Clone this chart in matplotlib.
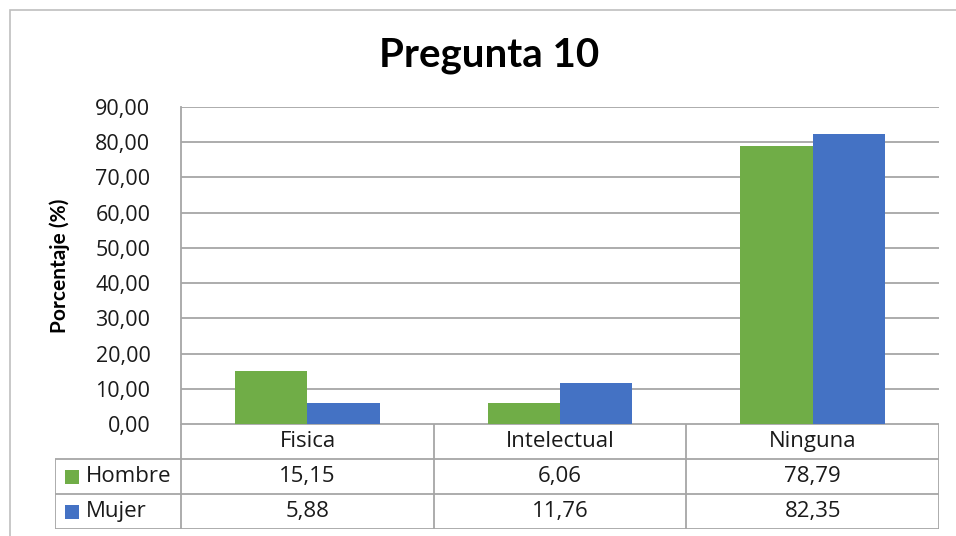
import matplotlib.pyplot as plt
from matplotlib.patches import Rectangle
import numpy as np

# datos
categorias = ['Fisica', 'Intelectual', 'Ninguna']
series = ['Hombre', 'Mujer']
hombre = [15.15, 6.06, 78.79]
mujer = [5.88, 11.76, 82.35]
colores = ['#70AD47', '#4472C4']
y_ticks = [0, 10, 20, 30, 40, 50, 60, 70, 80, 90]

W, H = 956, 536
fig = plt.figure(figsize=(W / 100, H / 100), dpi=100)
fig.patch.set_facecolor('white')

# borde exterior del grafico
fig.patches.append(Rectangle((10 / W, -0.1), 1.2, 1 - 10 / H + 0.1,
                             transform=fig.transFigure, fill=False,
                             edgecolor='#BFBFBF', lw=1.2))

def px_axes(x0, y0, x1, y1):
    return fig.add_axes([x0 / W, 1 - y1 / H, (x1 - x0) / W, (y1 - y0) / H])

grid_col = '#A6A6A6'
txt = '#1a1a1a'
fuente = ['Open Sans', 'DejaVu Sans']
fs_tabla = 16

# grafico de barras
ax = px_axes(181, 107, 939, 424)
x = np.arange(len(categorias))
w = 1 / 3.5
ax.bar(x - w / 2, hombre, w, color=colores[0], zorder=3)
ax.bar(x + w / 2, mujer, w, color=colores[1], zorder=3)
ax.set_xlim(-0.5, 2.5)
ax.set_ylim(0, 90)
ax.set_yticks(y_ticks)
ax.set_yticklabels(['%d,00' % v for v in y_ticks], fontsize=15.5,
                   family=fuente, color=txt)
ax.yaxis.grid(True, color=grid_col, lw=1.3, zorder=0)
ax.set_xticks([])
for s in ['top', 'right', 'bottom']:
    ax.spines[s].set_visible(False)
ax.spines['left'].set_color(grid_col)
ax.spines['left'].set_linewidth(1.3)
ax.tick_params(axis='y', length=0, pad=22)
ax.set_ylabel('Porcentaje (%)', fontsize=15, fontweight='bold',
              family='Lato', color='black', labelpad=18)

fig.text(489 / W, 1 - 55 / H, 'Pregunta 10', ha='center', va='center',
         fontsize=29, fontweight='bold', family='Lato', color='black')

# tabla de datos
tb = px_axes(55, 424, 939, 529)
tb.set_xlim(-1.0, 2.5)
tb.set_ylim(3, 0)
tb.axis('off')
lk = dict(color=grid_col, lw=1.3, solid_capstyle='butt')
tb.plot([-0.5, 2.5], [0, 0], **lk)
for yy in [1, 2, 3]:
    tb.plot([-1.0, 2.5], [yy, yy], **lk)
for xx in [-0.5, 0.5, 1.5, 2.5]:
    tb.plot([xx, xx], [0, 3], **lk)
tb.plot([-1.0, -1.0], [1, 3], **lk)

for i, c in enumerate(categorias):
    tb.text(i, 0.5, c, ha='center', va='center', fontsize=fs_tabla,
            family=fuente, color=txt)
    tb.text(i, 1.5, ('%.2f' % hombre[i]).replace('.', ','), ha='center',
            va='center', fontsize=fs_tabla, family=fuente, color=txt)
    tb.text(i, 2.5, ('%.2f' % mujer[i]).replace('.', ','), ha='center',
            va='center', fontsize=fs_tabla, family=fuente, color=txt)

for j, s in enumerate(series):
    tb.add_patch(Rectangle((-0.96, 1.5 + j - 0.2), 0.055, 0.4,
                           color=colores[j], lw=0))
    tb.text(-0.877, 1.5 + j, s, ha='left', va='center', fontsize=fs_tabla,
            family=fuente, color=txt)

fig.savefig('out.png', dpi=100)
